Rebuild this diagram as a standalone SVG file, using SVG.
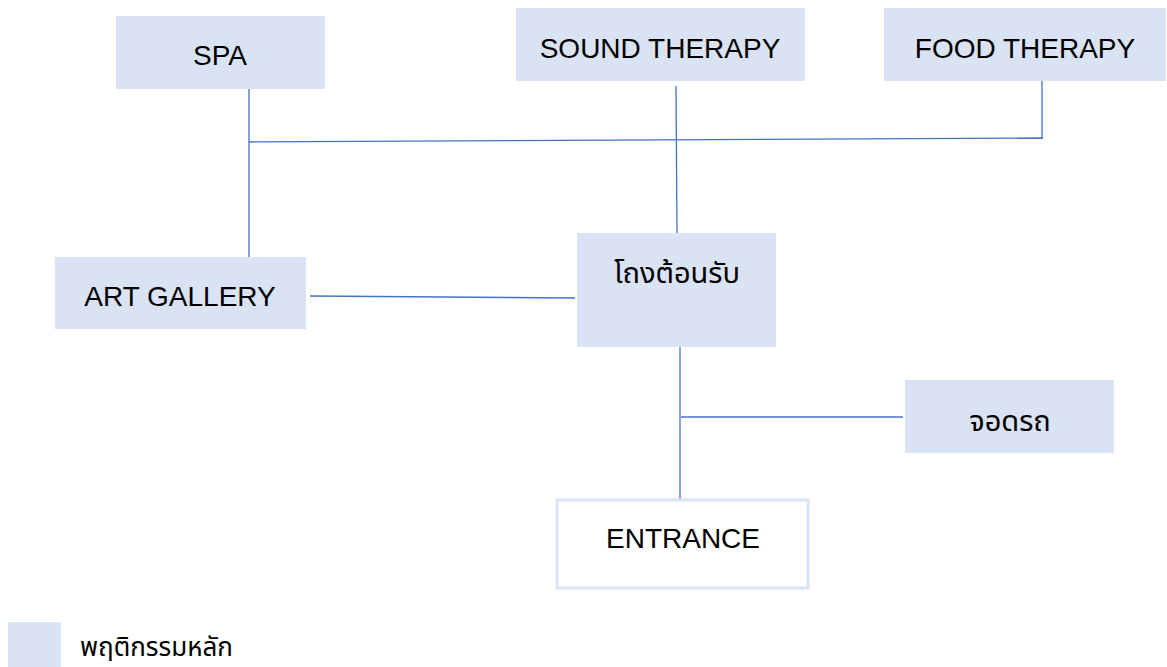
<svg xmlns="http://www.w3.org/2000/svg" width="1167" height="667" viewBox="0 0 1167 667">
<style>
.box{fill:#DAE3F3;}
.open{fill:#FFFFFF;stroke:#DAE3F3;stroke-width:3;}
.lbl{font-family:"Liberation Sans",Arial,sans-serif;font-size:28px;fill:#000;text-anchor:middle;}
.th{font-family:"Noto Sans Thai","Noto Sans","DejaVu Sans",sans-serif;font-size:29px;fill:#000;text-anchor:middle;}
.ln{stroke:#4472C4;stroke-width:1.3;fill:none;}
</style>
<rect width="1167" height="667" fill="#FFFFFF"/>
<g id="connectors">
<line class="ln" x1="249" y1="89" x2="249" y2="257"/>
<line class="ln" x1="249" y1="142" x2="1043" y2="138"/>
<line class="ln" x1="1042" y1="81" x2="1042" y2="138"/>
<line class="ln" x1="676" y1="86" x2="677" y2="233"/>
<line class="ln" x1="310" y1="296" x2="575" y2="298"/>
<line class="ln" x1="680" y1="347" x2="680" y2="499"/>
<line class="ln" x1="681" y1="417" x2="903" y2="417"/>
</g>
<g id="spa">
<rect class="box" x="116" y="16" width="209" height="73"/>
<text class="lbl" x="220" y="65">SPA</text>
</g>
<g id="sound-therapy">
<rect class="box" x="516" y="8" width="289" height="73"/>
<text class="lbl" x="660" y="58">SOUND THERAPY</text>
</g>
<g id="food-therapy">
<rect class="box" x="884" y="8" width="282" height="73"/>
<text class="lbl" x="1025" y="58">FOOD THERAPY</text>
</g>
<g id="art-gallery">
<rect class="box" x="55" y="257" width="251" height="72"/>
<text class="lbl" x="180" y="306">ART GALLERY</text>
</g>
<g id="reception">
<rect class="box" x="577" y="233" width="199" height="114"/>
<text class="th" x="677" y="283">โถงต้อนรับ</text>
</g>
<g id="parking">
<rect class="box" x="905" y="380" width="209" height="73"/>
<text class="th" x="1010" y="431">จอดรถ</text>
</g>
<g id="entrance">
<rect class="open" x="557" y="500" width="251" height="88"/>
<text class="lbl" x="683" y="548">ENTRANCE</text>
</g>
<g id="legend">
<rect class="box" x="8" y="622" width="53" height="45"/>
<text class="th" x="80" y="656" style="text-anchor:start;font-size:26px">พฤติกรรมหลัก</text>
</g>
</svg>
